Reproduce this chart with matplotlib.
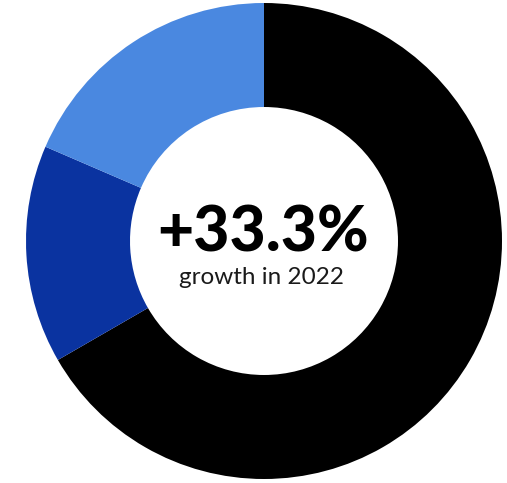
import matplotlib
matplotlib.use("Agg")
import matplotlib.pyplot as plt

segments = ["Segment A", "Segment B", "Segment C"]
values = [180, 40, 50]
colors = ["#000000", "#0A33A0", "#4A88E0"]
headline = "+33.3%"
subtitle = "growth in 2022"

fig = plt.figure(figsize=(5.07, 4.83), dpi=100)
ax = fig.add_axes([0, 0, 1, 1])
ax.pie(values, colors=colors, startangle=90, counterclock=False, radius=1.0,
       wedgeprops=dict(width=1 - 0.563, linewidth=0))
ax.set_aspect("auto")
ax.set_xlim(-264 / 238, (507 - 264) / 238)
ax.set_ylim(-(483 - 241) / 238, 241 / 238)
ax.axis("off")

ax.text(-0.006, -0.046, headline, ha="center", va="baseline",
        fontsize=45, fontweight=900, family=["Lato", "DejaVu Sans"], color="#000000")
ax.text(-0.01, -0.181, subtitle, ha="center", va="baseline",
        fontsize=17.5, family=["Lato", "DejaVu Sans"], color="#1a1a1a")

fig.savefig("out.png", dpi=100)
